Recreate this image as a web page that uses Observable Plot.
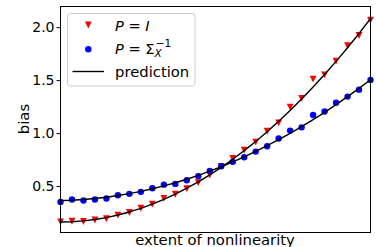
<!DOCTYPE html>
<html><head><meta charset="utf-8">
<script src="https://cdn.jsdelivr.net/npm/d3@7"></script>
<script src="https://cdn.jsdelivr.net/npm/@observablehq/plot@0.6"></script>
<style>body{margin:0;background:#fff} svg{display:block}</style>
</head><body><div id="chart"></div>
<script>
const steps = [0,1,2,3,4,5,6,7,8,9,10,11,12,13,14,15,16,17,18,19,20,21,22,23,24,25,26,27];
const biasIdentity = [0.167,0.172,0.170,0.184,0.196,0.230,0.255,0.295,0.333,0.388,0.427,0.480,0.537,0.609,0.690,0.766,0.844,0.920,1.022,1.102,1.250,1.332,1.514,1.555,1.684,1.830,1.926,2.070];
const biasInvCov = [0.355,0.377,0.368,0.377,0.387,0.418,0.431,0.450,0.484,0.518,0.525,0.559,0.597,0.648,0.692,0.733,0.776,0.830,0.880,0.953,1.028,1.059,1.176,1.208,1.292,1.349,1.415,1.507];
const predIdentity = [0.165,0.168,0.176,0.189,0.207,0.231,0.260,0.294,0.334,0.378,0.428,0.484,0.544,0.610,0.681,0.758,0.839,0.926,1.018,1.116,1.218,1.326,1.440,1.558,1.682,1.811,1.945,2.085];
const predInvCov = [0.368,0.371,0.378,0.387,0.399,0.415,0.433,0.454,0.479,0.506,0.536,0.569,0.606,0.645,0.687,0.732,0.780,0.832,0.886,0.943,1.003,1.066,1.132,1.201,1.274,1.349,1.427,1.508];
const yTicks = [0.5, 1.0, 1.5, 2.0];
const xLabel = "extent of nonlinearity";
const yLabel = "bias";
const predictionLabel = "prediction";

const red = "#ff0000", blue = "#0000ff";
const triangleDown = {
  draw(ctx, size) {
    const a = Math.sqrt(size / Math.PI);
    ctx.moveTo(0, a); ctx.lineTo(-a, -a); ctx.lineTo(a, -a); ctx.closePath();
  }
};

const rowsI = steps.map((s, i) => ({x: s, bias: biasIdentity[i], pred: predIdentity[i]}));
const rowsS = steps.map((s, i) => ({x: s, bias: biasInvCov[i], pred: predInvCov[i]}));

const svg = Plot.plot({
  width: 376, height: 247,
  marginLeft: 60, marginRight: 6, marginTop: 6, marginBottom: 15,
  style: {fontFamily: "DejaVu Sans", fontSize: "14px", color: "black", background: "white"},
  x: {domain: [0, 27], axis: null},
  y: {domain: [0.066, 2.2]},
  marks: [
    Plot.dot(rowsI, {x: "x", y: "bias", symbol: triangleDown, r: 3.4, fill: red, stroke: "none"}),
    Plot.dot(rowsS, {x: "x", y: "bias", symbol: "circle", r: 3.2, fill: blue, stroke: "none"}),
    Plot.line(rowsI, {x: "x", y: "pred", stroke: "black", strokeWidth: 1.4}),
    Plot.line(rowsS, {x: "x", y: "pred", stroke: "black", strokeWidth: 1.4}),
    Plot.axisY(yTicks, {tickSize: 3.5, tickPadding: 2.5, fontSize: 14, tickFormat: d3.format(".1f"), label: null}),
    Plot.frame({stroke: "black", strokeWidth: 1})
  ]
});

const s = d3.select(svg);
s.append("text").attr("x", 215).attr("y", 245).attr("text-anchor", "middle")
  .attr("font-size", 14.8).attr("fill", "black").text(xLabel);
s.append("text").attr("transform", "translate(29,119) rotate(-90)").attr("text-anchor", "middle")
  .attr("font-size", 14.8).attr("fill", "black").text(yLabel);

// legend
const lg = s.append("g").attr("text-anchor", "start");
lg.append("rect").attr("x", 67.5).attr("y", 13.5).attr("width", 127.5).attr("height", 72.5)
  .attr("rx", 3).attr("fill", "white").attr("fill-opacity", 0.8).attr("stroke", "#cccccc").attr("stroke-width", 1);
const tri = d3.path(); triangleDown.draw(tri, Math.PI * 3.4 * 3.4);
lg.append("path").attr("d", tri.toString()).attr("transform", "translate(88.3,25)").attr("fill", red);
lg.append("circle").attr("cx", 88.3).attr("cy", 49.3).attr("r", 3.2).attr("fill", blue);
lg.append("line").attr("x1", 72.5).attr("x2", 104).attr("y1", 71.5).attr("y2", 71.5).attr("stroke", "black").attr("stroke-width", 1.4);

const t1 = lg.append("text").attr("x", 115).attr("y", 30.5).attr("font-size", 14.6).attr("fill", "black");
t1.append("tspan").attr("font-style", "italic").text("P");
t1.append("tspan").text(" = ");
t1.append("tspan").attr("font-style", "italic").text("I");

const t2 = lg.append("text").attr("x", 115).attr("y", 53.5).attr("font-size", 14.6).attr("fill", "black");
t2.append("tspan").attr("font-style", "italic").text("P");
t2.append("tspan").text(" = Σ");
t2.append("tspan").attr("font-style", "italic").attr("font-size", 10.5).attr("dy", 3.5).text("X");
t2.append("tspan").attr("font-size", 10.5).attr("dx", -6).attr("dy", -10).text("−1");

lg.append("text").attr("x", 115).attr("y", 76.5).attr("font-size", 14.8).attr("fill", "black").text(predictionLabel);

document.getElementById("chart").appendChild(svg);
</script>
</body></html>
